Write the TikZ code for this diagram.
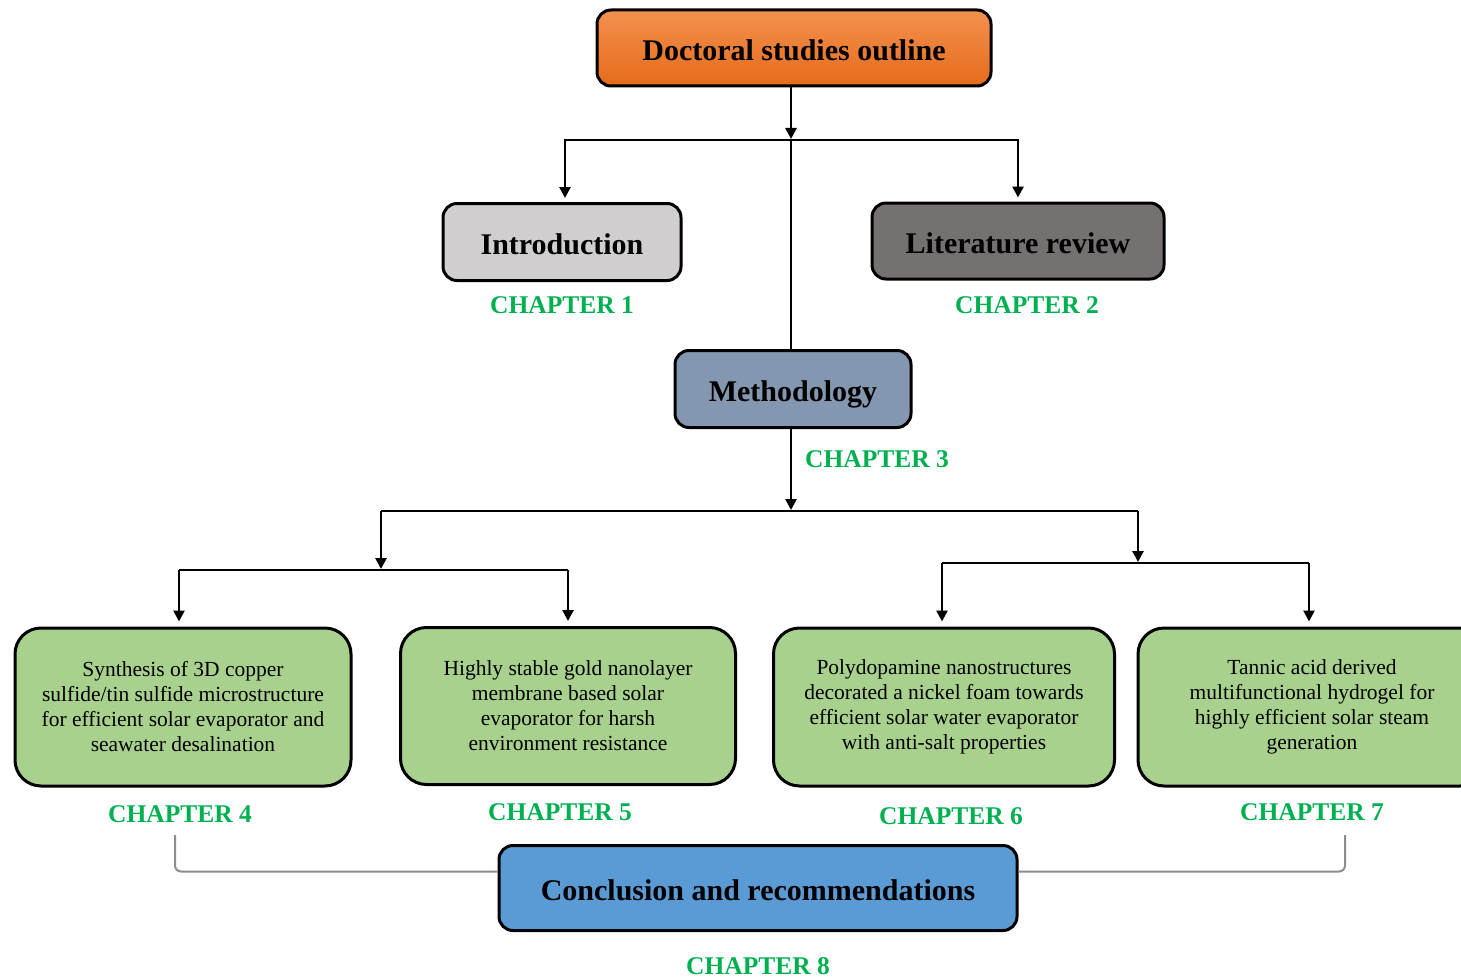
\documentclass[tikz,border=0pt]{standalone}
\usepackage{fontspec}
\setmainfont{Liberation Serif}
\usetikzlibrary{arrows.meta}
\definecolor{chgreen}{HTML}{00B050}
\definecolor{boxgreen}{HTML}{A9D18E}
\definecolor{introgray}{HTML}{D0CECE}
\definecolor{litgray}{HTML}{767171}
\definecolor{methblue}{HTML}{8497B0}
\definecolor{conblue}{HTML}{5B9BD5}
\definecolor{orangetop}{HTML}{F3914F}
\definecolor{orangebot}{HTML}{E56B1B}
\definecolor{brackgray}{HTML}{8C8C8C}
\begin{document}
\begin{tikzpicture}[x=1pt,y=-1pt,
  topbox/.style={draw=black, line width=3pt, rounded corners=14pt, inner sep=0pt,
     text height=25pt, text depth=0pt,
     font=\fontsize{30}{32}\selectfont\bfseries},
  greenbox/.style={draw=black, line width=3pt, rounded corners=26pt, fill=boxgreen,
     inner sep=0pt, align=center, minimum height=158pt,
     font=\fontsize{21.5}{25}\selectfont},
  chap/.style={text=chgreen, inner sep=0pt, font=\fontsize{25.5}{28}\selectfont\bfseries},
  arr/.style={-{Triangle[width=11pt,length=11pt]}, line width=2.6pt, shorten >=1pt},
  ln/.style={line width=2.6pt},
  brack/.style={draw=brackgray, line width=2pt, rounded corners=6pt}]
\useasboundingbox (0,0) rectangle (1461,979);
\clip (0,0) rectangle (1461,979);

% top level
\node[topbox, top color=orangetop, bottom color=orangebot, minimum width=394pt, minimum height=76pt] (doc) at (794,48) {Doctoral studies outline};
\node[topbox, fill=introgray, minimum width=238pt, minimum height=77pt] (intro) at (562,242) {Introduction};
\node[topbox, fill=litgray, minimum width=292pt, minimum height=76pt] (lit) at (1018,241) {Literature review};
\node[topbox, fill=methblue, minimum width=236pt, minimum height=77pt] (meth) at (793,389) {Methodology};
\node[topbox, fill=conblue, minimum width=518pt, minimum height=85pt] (concl) at (758,888) {Conclusion and recommendations};

\node[chap] (c1) at (562,305) {CHAPTER 1};
\node[chap] (c2) at (1027,305) {CHAPTER 2};
\node[chap] (c3) at (877,459) {CHAPTER 3};

% green boxes
\node[greenbox, minimum width=336pt] (b4) at (183,707) {Synthesis of 3D copper\\sulfide/tin sulfide microstructure\\for efficient solar evaporator and\\seawater desalination};
\node[greenbox, minimum width=335pt, minimum height=157pt] (b5) at (568,706) {Highly stable gold nanolayer\\membrane based solar\\evaporator for harsh\\environment resistance};
\node[greenbox, minimum width=341pt] (b6) at (944,707) {Polydopamine nanostructures\\decorated a nickel foam towards\\efficient solar water evaporator\\with anti-salt properties};
\node[greenbox, minimum width=348pt] (b7) at (1312,707) {Tannic acid derived\\multifunctional hydrogel for\\highly efficient solar steam\\generation};

\node[chap] (c4) at (180,814) {CHAPTER 4};
\node[chap] (c5) at (560,812) {CHAPTER 5};
\node[chap] (c6) at (951,816) {CHAPTER 6};
\node[chap] (c7) at (1312,812) {CHAPTER 7};
\node[chap] (c8) at (758,966) {CHAPTER 8};

% junctions
\coordinate (j1) at (791,140);
\coordinate (j2) at (791,511);
\coordinate (jl) at (381,511);
\coordinate (jr) at (1138,511);
\coordinate (kl) at (381,570);
\coordinate (kr) at (1138,563);
\coordinate (kl4) at (179,570);
\coordinate (kl5) at (568,570);
\coordinate (kr6) at (942,563);
\coordinate (kr7) at (1309,563);
\coordinate (bl) at (175,835);
\coordinate (br) at (1345,835);

% connectors
\draw[arr] (doc.south -| j1) -- (j1);
\draw[ln] (j1) -- (meth.north -| j1);
\draw[arr, shorten >=4pt] (j1) -| ([xshift=3pt]intro.north);
\draw[arr, shorten >=4pt] (j1) -| (lit.north);
\draw[arr] (meth.south -| j2) -- (j2);
\draw[ln] (jl) -- (jr);
\draw[arr] (jl) -- (kl);
\draw[arr] (jr) -- (kr);
\draw[ln] (kl4) -- (kl5);
\draw[ln] (kr6) -- (kr7);
\draw[arr, shorten >=5pt] (kl4) -- (kl4 |- b4.north);
\draw[arr, shorten >=5pt] (kl5) -- (kl5 |- b5.north);
\draw[arr, shorten >=5pt] (kr6) -- (kr6 |- b6.north);
\draw[arr, shorten >=5pt] (kr7) -- (kr7 |- b7.north);

% bracket to conclusion
\draw[brack] (bl) |- ([yshift=16.5pt]concl.west);
\draw[brack] (br) |- ([yshift=16.5pt]concl.east);
\end{tikzpicture}
\end{document}
